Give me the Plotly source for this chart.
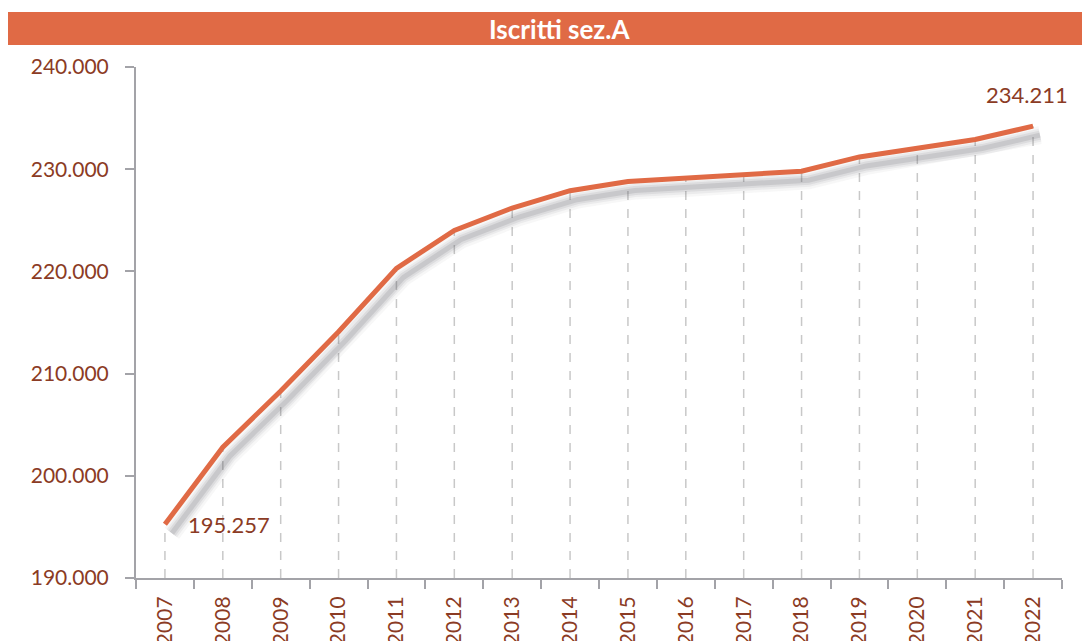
import plotly.graph_objects as go

years = list(range(2007, 2023))
iscritti = [195257, 202800, 208300, 214100, 220300, 224000, 226200, 227900,
            228800, 229100, 229400, 229800, 231200, 232100, 232900, 234211]
y_ticks = [190000, 200000, 210000, 220000, 230000, 240000]
y_min, y_max = 190000, 240000

LINE = "#E06A45"
TEXT = "#8B3B24"
AXIS = "#A3A3A8"
FONT = "Lato, 'Open Sans', sans-serif"

# shadow offset (x in years, y in units ~ 8px down)
sh_x = 0.12
sh_y = 9 / 511 * (y_max - y_min)

fig = go.Figure()

# dashed drop lines from each point to the x axis
for yr, v in zip(years, iscritti):
    fig.add_shape(type="line", xref="x", yref="y", x0=yr, x1=yr, y0=y_min, y1=v,
                  line=dict(color="#C8C8C8", width=1.5, dash="dash"), layer="below")

# soft shadow under the line
for w, op in [(18, 0.05), (13, 0.07), (9, 0.10), (5, 0.15)]:
    fig.add_trace(go.Scatter(
        x=[y + sh_x for y in years], y=[v - sh_y for v in iscritti], mode="lines",
        line=dict(color=f"rgba(90,90,95,{op})", width=w),
        hoverinfo="skip", showlegend=False,
    ))

fig.add_trace(go.Scatter(
    x=years, y=iscritti, mode="lines",
    line=dict(color=LINE, width=5), showlegend=False,
))

# title bar
fig.add_shape(type="rect", xref="paper", yref="paper",
              x0=-0.2, x1=1.1, y0=1.043, y1=1.1076,
              fillcolor="#E06A45", line_width=0, layer="above")
fig.add_annotation(xref="paper", yref="paper", x=0.457, y=1.0753,
                   xanchor="center", yanchor="middle",
                   text="<b>Iscritti sez.A</b>", showarrow=False,
                   font=dict(family=FONT, size=26, color="white"))

fig.add_annotation(x=years[0], y=iscritti[0],
                   text="195.257", showarrow=False, xshift=64, yshift=0,
                   font=dict(family=FONT, size=22, color=TEXT))
fig.add_annotation(x=years[-1], y=iscritti[-1],
                   text="234.211", showarrow=False, xshift=-6, yshift=32,
                   font=dict(family=FONT, size=22, color=TEXT))

fig.update_layout(
    width=1082, height=633,
    margin=dict(l=128, r=28, t=59, b=63),
    plot_bgcolor="white", paper_bgcolor="white",
    separators=",.",
    font=dict(family=FONT, color=TEXT, size=21),
    xaxis=dict(range=[years[0] - 0.5, years[-1] + 0.5], tickvals=years,
               automargin=False, showline=True, linecolor=AXIS, linewidth=2,
               ticks="", tickangle=-90, showgrid=False, zeroline=False,
               ticklabelstandoff=8,
               minor=dict(tick0=years[0] - 0.5, dtick=1, ticks="outside",
                          ticklen=9, tickwidth=2, tickcolor=AXIS, showgrid=False),
               tickfont=dict(size=21, color=TEXT)),
    yaxis=dict(range=[y_min, y_max], tickvals=y_ticks, automargin=False,
               tickformat=",.0f", showline=True, linecolor=AXIS, linewidth=2,
               ticks="outside", ticklen=9, tickwidth=2, tickcolor=AXIS,
               ticklabelstandoff=12,
               showgrid=False, zeroline=False,
               tickfont=dict(size=21, color=TEXT)),
)

fig.write_html("out.html")
